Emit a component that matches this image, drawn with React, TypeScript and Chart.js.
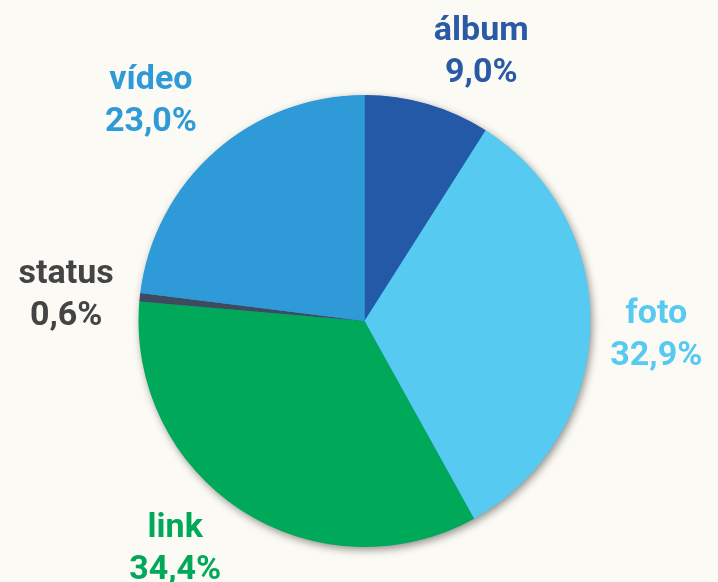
import React, { useEffect, useRef } from "react";
import { Chart, registerables } from "chart.js";

Chart.register(...registerables);

const categories = ["álbum", "foto", "link", "status", "vídeo"];
const shares = [9.0, 32.9, 34.4, 0.6, 23.0];
const sliceColors = ["#2359a7", "#56caf1", "#00a85a", "#3e4a5d", "#2e9bd8"];
const labelColors = ["#2a5aa6", "#56caf1", "#00a85a", "#444444", "#2e9bd8"];

const BG = "#fcfaf4";

const fmt = (v: number) => v.toFixed(1).replace(".", ",") + "%";

const shadowPlugin = {
  id: "pieShadow",
  beforeDatasetsDraw(chart: any) {
    const meta = chart.getDatasetMeta(0);
    const arc = meta.data[0];
    if (!arc) return;
    const { x, y, outerRadius } = arc.getProps(["x", "y", "outerRadius"], true);
    const ctx = chart.ctx;
    ctx.save();
    ctx.shadowColor = "rgba(0,0,0,0.45)";
    ctx.shadowBlur = 8;
    ctx.shadowOffsetX = 2;
    ctx.shadowOffsetY = 3;
    ctx.fillStyle = "#2e9bd8";
    ctx.beginPath();
    ctx.arc(x, y, outerRadius - 0.5, 0, Math.PI * 2);
    ctx.fill();
    ctx.restore();
  },
};

// label placement: distance beyond the rim, plus small per-label nudges
const labelGap = 74;
const labelNudges = [
  [33, 15],
  [-8, 1],
  [-26, -28],
  [0, 2],
  [-15, 1],
];

const labelPlugin = {
  id: "outerLabels",
  afterDatasetsDraw(chart: any) {
    const meta = chart.getDatasetMeta(0);
    const ctx = chart.ctx;
    ctx.save();
    ctx.font = "bold 34px Roboto";
    ctx.textAlign = "center";
    ctx.textBaseline = "alphabetic";
    meta.data.forEach((arc: any, i: number) => {
      const p = arc.getProps(["x", "y", "startAngle", "endAngle", "outerRadius"], true);
      const mid = (p.startAngle + p.endAngle) / 2;
      const d = p.outerRadius + labelGap;
      const cx = p.x + Math.cos(mid) * d + labelNudges[i][0];
      const cy = p.y + Math.sin(mid) * d + 13 + labelNudges[i][1];
      ctx.fillStyle = labelColors[i];
      ctx.fillText(categories[i], cx, cy - 21);
      ctx.fillText(fmt(shares[i]), cx, cy + 21);
    });
    ctx.restore();
  },
};

export default function App() {
  const ref = useRef<HTMLCanvasElement>(null);
  useEffect(() => {
    document.body.style.margin = "0";
    document.body.style.background = BG;
    const chart = new Chart(ref.current!, {
      type: "pie",
      data: {
        labels: categories,
        datasets: [
          {
            data: shares,
            backgroundColor: sliceColors,
            borderWidth: 0,
          },
        ],
      },
      options: {
        animation: false,
        responsive: false,
        layout: { padding: { left: 138, right: 127, top: 95, bottom: 35 } },
        plugins: {
          legend: { display: false },
          tooltip: { enabled: false },
        },
      },
      plugins: [shadowPlugin, labelPlugin],
    });
    return () => chart.destroy();
  }, []);
  return (
    <div style={{ width: 718, height: 582, background: BG }}>
      <canvas ref={ref} width={718} height={582} style={{ display: "block" }} />
    </div>
  );
}
